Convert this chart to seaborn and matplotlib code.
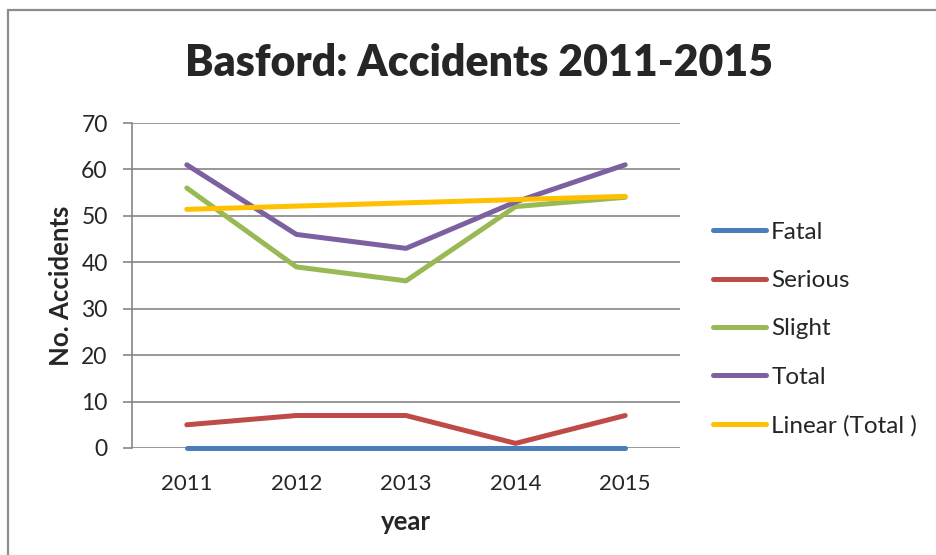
import matplotlib
matplotlib.use("Agg")
import matplotlib.pyplot as plt
import numpy as np
import pandas as pd
import seaborn as sns
from matplotlib.lines import Line2D

YEARS = ["2011", "2012", "2013", "2014", "2015"]
FATAL = [0, 0, 0, 0, 0]
SERIOUS = [5, 7, 7, 1, 7]
SLIGHT = [56, 39, 36, 52, 54]
TOTAL = [61, 46, 43, 53, 61]
SERIES = ["Fatal", "Serious", "Slight", "Total"]
TREND_LABEL = "Linear (Total )"

COLORS = {
    "Fatal": "#4A7EBB",
    "Serious": "#BE4B48",
    "Slight": "#98B954",
    "Total": "#7D60A0",
}
TREND_COLOR = "#FFC000"
GRID = "#868686"

sns.set_theme(style="white")
plt.rcParams["font.family"] = ["Lato", "DejaVu Sans"]

rows = []
for name, vals in zip(SERIES, [FATAL, SERIOUS, SLIGHT, TOTAL]):
    for i, (yr, v) in enumerate(zip(YEARS, vals)):
        rows.append({"pos": i, "year": yr, "series": name, "value": v})
df = pd.DataFrame(rows)

# linear trendline of the total series
x = np.arange(len(YEARS))
slope, icpt = np.polyfit(x, TOTAL, 1)
trend = pd.DataFrame({"pos": x, "value": slope * x + icpt})

fig = plt.figure(figsize=(9.36, 5.55), dpi=100)
ax = fig.add_axes([132 / 936, 1 - 448 / 555, 548 / 936, 325 / 555])

sns.lineplot(data=df, x="pos", y="value", hue="series", hue_order=SERIES,
             palette=COLORS, linewidth=3.6, ax=ax, legend=False, sort=False)
sns.lineplot(data=trend, x="pos", y="value", color=TREND_COLOR,
             linewidth=3.6, ax=ax, legend=False)
for ln in ax.lines:
    ln.set_solid_capstyle("round")
    ln.set_solid_joinstyle("round")
    ln.set_clip_on(False)

ax.set_xlim(-0.5, len(YEARS) - 0.5)
ax.set_ylim(0, 70)
ax.set_yticks(range(0, 71, 10))
ax.set_xticks(x)
ax.set_xticklabels(YEARS)
ax.yaxis.grid(True, color=GRID, linewidth=1.2)
ax.set_axisbelow(True)
for side in ["top", "right", "bottom"]:
    ax.spines[side].set_visible(False)
ax.spines["left"].set_color(GRID)
ax.spines["left"].set_linewidth(1.2)
ax.spines["left"].set_zorder(0.5)
ax.tick_params(axis="y", which="major", length=6.5, width=1.2, color=GRID,
               direction="out", labelsize=16.5, pad=11, left=True)
ax.tick_params(axis="x", length=0, labelsize=16, pad=19)
ax.set_xlabel("year", fontsize=18.5, fontweight="bold", labelpad=11)
ax.set_ylabel("No. Accidents", fontsize=18.5, fontweight="bold", labelpad=6)

fig.suptitle("Basford: Accidents 2011-2015", x=479 / 936, y=1 - 43 / 555,
             fontsize=30.8, fontweight="heavy", va="top")

handles = [Line2D([], [], color=COLORS[s], linewidth=3.6, solid_capstyle="round")
           for s in SERIES]
handles.append(Line2D([], [], color=TREND_COLOR, linewidth=3.6, solid_capstyle="round"))
fig.legend(handles, SERIES + [TREND_LABEL], loc="upper left",
           bbox_to_anchor=(691 / 936, 1 - 200 / 555), frameon=False,
           fontsize=17.5, handlelength=2.2, handletextpad=0.2, labelspacing=1.12)

# outer chart frame
fig.add_artist(Line2D([8 / 936, 8 / 936], [0, 1 - 10 / 555], color="#8C8C8C",
                      linewidth=1.6, transform=fig.transFigure))
fig.add_artist(Line2D([8 / 936, 1], [1 - 10 / 555, 1 - 10 / 555], color="#8C8C8C",
                      linewidth=1.6, transform=fig.transFigure))

fig.savefig("out.png", dpi=100)
